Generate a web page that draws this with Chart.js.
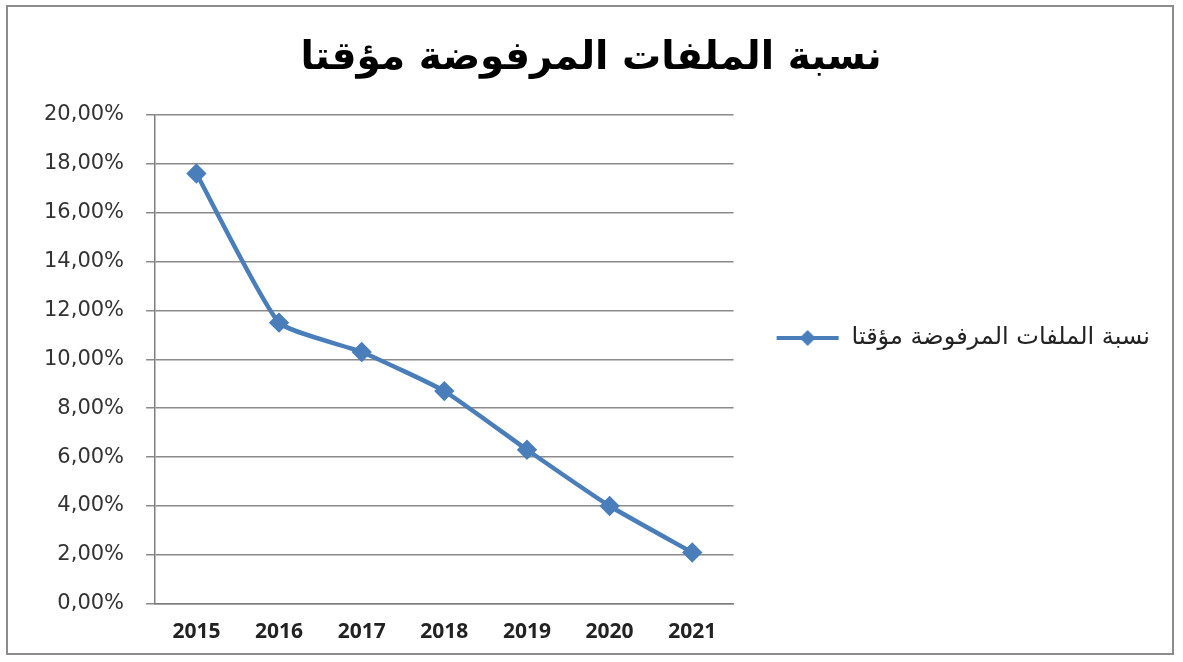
<!DOCTYPE html>
<html>
<head>
<meta charset="utf-8">
<script src="https://cdn.jsdelivr.net/npm/chart.js@4/dist/chart.umd.min.js"></script>
<style>
  html, body { margin: 0; padding: 0; background: #fff; }
  #wrap {
    position: absolute; left: 6px; top: 5px;
    width: 1168px; height: 650px;
    border: 2px solid #8c8c8c;
    box-sizing: border-box;
  }
</style>
</head>
<body>
<div id="wrap"><canvas id="chart"></canvas></div>
<script>
const years = ['2015', '2016', '2017', '2018', '2019', '2020', '2021'];
const rejectedShare = [0.176, 0.115, 0.103, 0.087, 0.063, 0.040, 0.021];
const seriesName = 'نسبة الملفات المرفوضة مؤقتا';
const chartTitle = 'نسبة الملفات المرفوضة مؤقتا';

const blue = '#4a7ebb';

// legend symbol: line with a diamond, like the office legend
const legendIcon = document.createElement('canvas');
legendIcon.width = 64;
legendIcon.height = 18;
(function () {
  const c = legendIcon.getContext('2d');
  c.strokeStyle = blue;
  c.lineWidth = 4;
  c.beginPath();
  c.moveTo(1, 9);
  c.lineTo(63, 9);
  c.stroke();
  c.fillStyle = blue;
  c.beginPath();
  c.moveTo(32, 1);
  c.lineTo(40, 9);
  c.lineTo(32, 17);
  c.lineTo(24, 9);
  c.closePath();
  c.fill();
})();

const pct = v => (v * 100).toFixed(2).replace('.', ',') + '%';

new Chart(document.getElementById('chart'), {
  type: 'line',
  data: {
    labels: years,
    datasets: [{
      label: seriesName,
      data: rejectedShare,
      borderColor: blue,
      backgroundColor: blue,
      borderWidth: 4.5,
      tension: 0.15,
      pointStyle: 'rectRot',
      pointRadius: 7,
      pointHoverRadius: 7,
      pointBackgroundColor: blue,
      pointBorderColor: blue,
    }],
  },
  options: {
    responsive: true,
    maintainAspectRatio: false,
    animation: false,
    layout: { padding: { left: 14, right: 12, top: 16, bottom: 0 } },
    scales: {
      x: {
        offset: true,
        grid: { display: false },
        border: { display: true, color: '#7f7f7f', width: 1.5 },
        ticks: {
          color: '#222',
          padding: 8,
          font: { family: '"Open Sans", sans-serif', size: 21, weight: 'bold' },
        },
      },
      y: {
        min: 0,
        max: 0.2,
        grid: { color: '#8a8a8a', lineWidth: 1.5, tickLength: 9, drawTicks: true },
        border: { display: true, color: '#7f7f7f', width: 1.5 },
        ticks: {
          stepSize: 0.02,
          color: '#333',
          padding: 22,
          font: { family: '"DejaVu Sans", sans-serif', size: 21 },
          callback: v => pct(v),
        },
      },
    },
    plugins: {
      title: {
        display: true,
        text: chartTitle,
        color: '#000',
        padding: { top: 12, bottom: 33 },
        font: { family: '"DejaVu Sans", sans-serif', size: 39, weight: 'bold' },
      },
      legend: {
        position: 'right',
        maxWidth: 480,
        labels: {
          color: '#222',
          font: { family: '"DejaVu Sans", sans-serif', size: 24 },
          usePointStyle: true,
          pointStyleWidth: 64,
          padding: 42,
          generateLabels: chart => chart.data.datasets.map((ds, i) => ({
            text: ds.label,
            fillStyle: blue,
            strokeStyle: blue,
            pointStyle: legendIcon,
            datasetIndex: i,
            hidden: false,
            fontColor: '#222',
          })),
        },
      },
      tooltip: { enabled: false },
    },
  },
});
</script>
</body>
</html>
